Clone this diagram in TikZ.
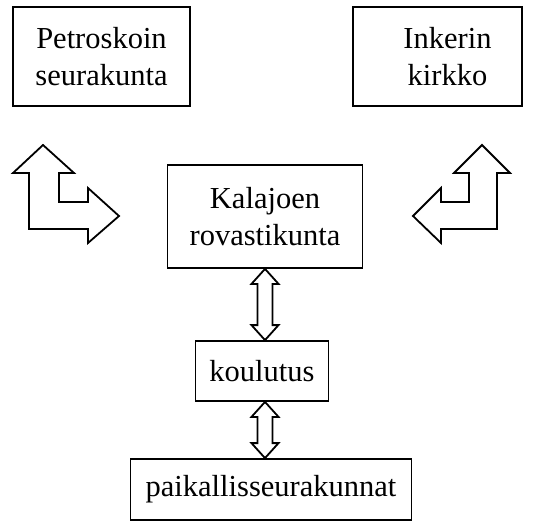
\documentclass[tikz,border=0pt]{standalone}
\usepackage{fontspec}
\setmainfont{Liberation Serif}
\usetikzlibrary{calc}
\begin{document}
\begin{tikzpicture}[x=1pt,y=-1pt,
  box/.style={draw,line width=1.8pt,inner sep=0pt,align=center,font=\fontsize{30.5}{37}\selectfont},
  txt/.style={inner sep=0pt,align=center,font=\fontsize{30.5}{37}\selectfont},
  blk/.style={draw,line width=1.8pt,line join=miter,fill=white}]
\useasboundingbox (0,0) rectangle (534,527);
\node[box,minimum width=177,minimum height=99] (pet) at (101.5,56.5) {Petroskoin\\seurakunta};
\node[box,minimum width=169,minimum height=99] (ink) at (437.5,56.5) {};
\node[txt] (inktext) at ($(ink.center)+(10,0)$) {Inkerin\\kirkko};
\node[box,minimum width=195,minimum height=103] (kal) at (265,216.5) {Kalajoen\\rovastikunta};
\node[box,minimum width=133,minimum height=60] (kou) at (262,371) {koulutus};
\node[box,minimum width=281,minimum height=61] (pai) at (271,489.5) {paikallisseurakunnat};
% L-shaped block arrows
\draw[blk] (43,145) -- (74,173) -- (59,173) -- (59,202) -- (88,202) -- (88,188) -- (119,216)
  -- (88,243) -- (88,229) -- (29,229) -- (29,173) -- (13,173) -- cycle;
\draw[blk] (482,145) -- (510,173) -- (497,173) -- (497,229) -- (441,229) -- (441,243) -- (413,216)
  -- (441,188) -- (441,202) -- (469,202) -- (469,173) -- (454,173) -- cycle;
% vertical double arrows (aligned under the Kalajoen box centre)
\foreach \a/\b in {kal/kou,kou/pai}{
\draw[blk] let \p1=(\a.south -| kal.south), \p2=(\b.north) in
  (\x1,\y1) -- (\x1+13.5pt,\y1-15pt) -- (\x1+7.5pt,\y1-15pt) -- (\x1+7.5pt,\y2+15pt)
  -- (\x1+13.5pt,\y2+15pt) -- (\x1,\y2) -- (\x1-13.5pt,\y2+15pt) -- (\x1-7.5pt,\y2+15pt)
  -- (\x1-7.5pt,\y1-15pt) -- (\x1-13.5pt,\y1-15pt) -- cycle;
}
\end{tikzpicture}
\end{document}
